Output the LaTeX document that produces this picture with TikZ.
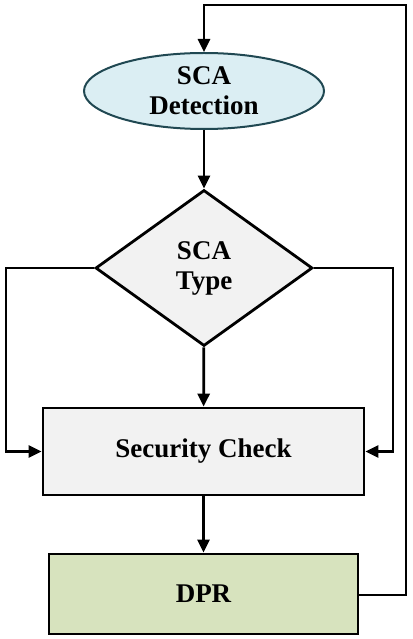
\documentclass[tikz,border=0pt]{standalone}
\usepackage{fontspec}
\setmainfont{Liberation Serif}
\usepackage{tikz}
\usepackage{xcolor}
\usetikzlibrary{positioning,shapes,arrows.meta}
\definecolor{detfill}{RGB}{219,238,243}
\definecolor{detline}{RGB}{32,72,82}
\definecolor{boxfill}{RGB}{242,242,242}
\definecolor{dprfill}{RGB}{215,227,190}

\begin{document}
\begin{tikzpicture}[x=1pt,y=-1pt,line width=2.8pt,
  >={Triangle[length=13pt,width=12pt]}]
\useasboundingbox (0,0) rectangle (412,639);
\tikzstyle{every node}=[draw,align=center,font=\fontsize{27}{30}\selectfont\bfseries];

\draw node[ellipse,fill=detfill,draw=detline,line width=2pt,minimum width=240pt,minimum height=76pt,inner sep=0pt] (det) at (204,91) {SCA\\Detection};
\draw node[diamond,fill=boxfill,minimum width=217pt,minimum height=156pt,inner sep=0pt] (typ) at (204,268) {SCA\\Type};
\draw node[rectangle,fill=boxfill,minimum width=321pt,minimum height=87pt] (sec) at (203.5,451.5) {Security Check};
\draw node[rectangle,fill=dprfill,minimum width=309pt,minimum height=80pt] (dpr) at (203.5,594) {DPR};

\coordinate (l1) at (6,268);
\coordinate (r1) at (393,268);
\coordinate (t1) at (406,595);
\coordinate (t2) at (406,5);
\coordinate (t3) at (204,5);

\draw[->] (det) -- (typ);
\draw[->] (typ) -- (sec);
\draw[->] (sec) -- (dpr);
\draw[->] (typ.west) -- (l1) |- (sec.west);
\draw[->] (typ.east) -- (r1) |- (sec.east);
\draw[->] (dpr.east |- t1) -- (t1) -- (t2) -- (t3) -- (det.north);
\end{tikzpicture}
\end{document}
